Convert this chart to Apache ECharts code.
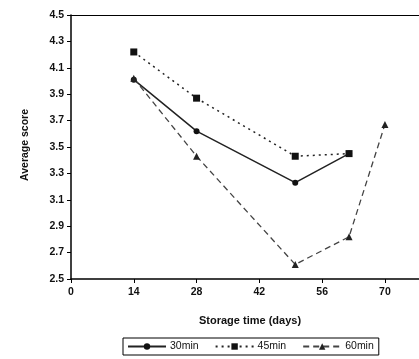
<!DOCTYPE html>
<html><head><meta charset="utf-8">
<script src="https://cdn.jsdelivr.net/npm/echarts@6/dist/echarts.min.js"></script>
<style>html,body{margin:0;padding:0;background:#fff}#c{width:419px;height:359px}</style>
</head><body><div id="c"></div>
<script>
const days = [14, 28, 50, 62, 70];
const s30 = [4.01, 3.62, 3.23, 3.45];
const s45 = [4.22, 3.87, 3.43, 3.45];
const s60 = [4.02, 3.43, 2.61, 2.82, 3.67];
const yTicks = [2.5, 2.7, 2.9, 3.1, 3.3, 3.5, 3.7, 3.9, 4.1, 4.3, 4.5];
const xTicks = [0, 14, 28, 42, 56, 70];
const names = ['30min', '45min', '60min'];

const pair = (vals) => vals.map((v, i) => [days[i], v]);
const font = {fontFamily: 'Liberation Sans', fontSize: 10.5, fontWeight: 'bold', color: '#111'};

const chart = echarts.init(document.getElementById('c'), null, {renderer: 'canvas'});
chart.setOption({
  animation: false,
  backgroundColor: '#fff',
  grid: {left: 71, top: 15, right: 0, bottom: 80, show: false},
  xAxis: [{
    type: 'value', min: 0, max: 77.6,
    axisLine: {lineStyle: {color: '#000', width: 1.5}},
    axisTick: {show: true, length: 4, customValues: xTicks, lineStyle: {color: '#000'}},
    axisLabel: Object.assign({customValues: xTicks, margin: 8}, font),
    splitLine: {show: false}
  }, {
    type: 'value', min: 0, max: 77.6, position: 'top',
    axisLine: {show: true, lineStyle: {color: '#000', width: 1}},
    axisTick: {show: false}, axisLabel: {show: false}, splitLine: {show: false}
  }],
  yAxis: {
    type: 'value', min: 2.5, max: 4.5,
    axisLine: {show: true, lineStyle: {color: '#000', width: 1.5}},
    axisTick: {show: true, length: 4, customValues: yTicks, lineStyle: {color: '#000'}},
    axisLabel: Object.assign({customValues: yTicks, margin: 7, formatter: v => v.toFixed(1)}, font),
    splitLine: {show: false}
  },
  legend: {
    data: names,
    left: 123, top: 338, width: 270,
    padding: [3, 5, 3, 4],
    itemWidth: 38, itemHeight: 8, itemGap: 16,
    borderColor: '#000', borderWidth: 1,
    textStyle: Object.assign({}, font, {fontWeight: 'normal', fontSize: 10.5, padding: [0, 0, 0, -1]})
  },
  graphic: [
    {type: 'text', style: {text: 'Storage time (days)', x: 250, y: 321, align: 'center', verticalAlign: 'middle', fill: '#111', font: 'bold 11px "Liberation Sans"'}},
    {type: 'text', x: 25, y: 145, rotation: Math.PI / 2, style: {text: 'Average score', align: 'center', verticalAlign: 'middle', fill: '#111', font: 'bold 10.5px "Liberation Sans"'}}
  ],
  series: [
    {name: names[0], type: 'line', data: pair(s30), symbol: 'circle', symbolSize: 6,
     lineStyle: {color: '#222', width: 1.5, type: 'solid'}, itemStyle: {color: '#111'}},
    {name: names[1], type: 'line', data: pair(s45), symbol: 'rect', symbolSize: 7,
     lineStyle: {color: '#222', width: 1.5, type: [2, 4]}, itemStyle: {color: '#111'}},
    {name: names[2], type: 'line', data: pair(s60), symbol: 'triangle', symbolSize: 7,
     lineStyle: {color: '#444', width: 1.3, type: [6, 4]}, itemStyle: {color: '#222'}}
  ]
});
</script></body></html>
